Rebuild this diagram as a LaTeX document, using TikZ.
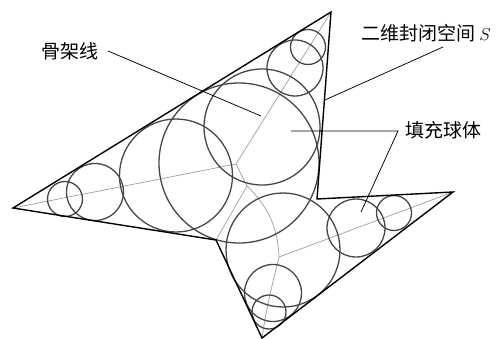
\documentclass[tikz,border=0pt]{standalone}
\usepackage{fontspec}
\newfontfamily\cjk{Noto Sans CJK SC}
\begin{document}
\begin{tikzpicture}[x=1pt,y=-1pt,
  edge/.style={line width=1.4pt,black,line join=miter},
  ball/.style={line width=1.3pt,black!72},
  skel/.style={line width=0.7pt,black!38},
  leader/.style={line width=0.75pt,black},
  lbl/.style={inner sep=0pt,font=\cjk\fontsize{19}{21}\selectfont}]
\useasboundingbox (0,0) rectangle (502,339);
% polygon vertices
\coordinate (L) at (13,208);
\coordinate (T) at (331,12);
\coordinate (V) at (317,199);
\coordinate (Rt) at (453,192);
\coordinate (Bt) at (262,338);
\coordinate (Rx) at (216,240);
% skeleton junctions
\coordinate (J1) at (236,164);
\coordinate (J2) at (247,186);
\coordinate (J3) at (279,257);
% skeleton
\draw[skel] (L) -- (J1) -- (T);
\draw[skel] (J1) -- (J2) -- (Rx);
\draw[skel] (J2) .. controls (266,204) and (278,226) .. (J3);
\draw[skel] (J3) -- (Rt);
\draw[skel] (J3) .. controls (272,285) and (266,310) .. (Bt);
% filling balls
\draw[ball] (65,199) circle[radius=17.5];
\draw[ball] (95,192) circle[radius=28.5];
\draw[ball] (176,175.5) circle[radius=56.5];
\draw[ball] (239,163) circle[radius=80];
\draw[ball] (262,127) circle[radius=58];
\draw[ball] (295,68) circle[radius=28];
\draw[ball] (308,47) circle[radius=17.5];
\draw[ball] (283,250) circle[radius=57];
\draw[ball] (273,293) circle[radius=28.5];
\draw[ball] (269,312) circle[radius=17];
\draw[ball] (356,228) circle[radius=29];
\draw[ball] (394,213) circle[radius=17.5];
% boundary
\draw[edge] (L) -- (T) -- (V) -- (Rt) -- (Bt) -- (Rx) -- cycle;
% labels
\node[lbl] (skl) at (70,51) {骨架线};
\node[lbl] (spc) at (426,33) {二维封闭空间 $S$};
\node[lbl,anchor=west] (fil) at (405,130) {填充球体};
\coordinate (a1) at (108,51);
\coordinate (a2) at (261,116);
\coordinate (b1) at (443,47);
\coordinate (b2) at (325,100);
\coordinate (c0) at (291,131);
\coordinate (c1) at (398,131);
\coordinate (c2) at (361,212);
\draw[leader] (a1) -- (a2);
\draw[leader] (b1) -- (b2);
\draw[leader] (c0) -- (c1) -- (c2);
\fill (321.5,131) circle[radius=1.1];
\end{tikzpicture}
\end{document}
